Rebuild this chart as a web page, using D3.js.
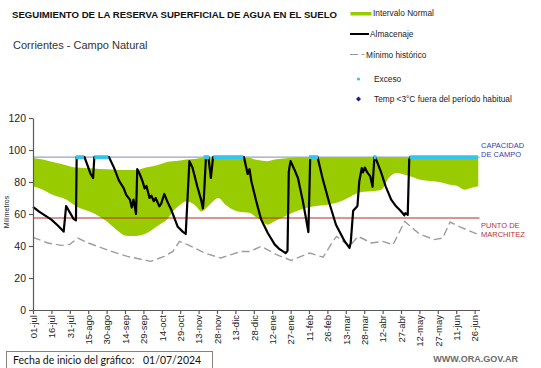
<!DOCTYPE html>
<html>
<head>
<meta charset="utf-8">
<script src="https://cdn.jsdelivr.net/npm/d3@7"></script>
<style>
  body { margin: 0; background: #fff; }
  svg { display: block; font-family: "Liberation Sans", Arial, sans-serif; }
</style>
</head>
<body>
<div id="chart"></div>
<script>
// dias contados desde el 01/07/2024
var almDias = [0, 5, 10, 15, 20, 25, 27, 30, 33, 35, 35.6, 42, 47, 49, 50, 62, 66, 70, 74, 76, 79, 80.5, 82, 84, 85,
  87, 89.5, 91, 92.5, 95, 96.5, 98.5, 100, 103, 104.5, 107, 110, 112.5, 114, 116, 118, 122, 124.5, 127.5, 130, 134,
  137, 138.5, 139.3, 141, 143, 145, 146.8, 172, 175, 176.5, 178, 182, 186, 191.5, 197, 201, 206, 207.5, 208.5, 209,
  210, 213, 216, 220, 222.5, 224.5, 226, 232, 236, 241.5, 247, 254, 258, 259, 261, 264.5, 266, 268, 269, 270.5,
  272.5, 275, 276.8, 278.3, 279, 283.5, 287.5, 292, 296, 300, 302.7, 303.5, 305.5, 306.7, 307.5, 362];
var almValores = [64.5, 61.5, 59, 56.5, 53, 49, 65, 61, 57, 56, 95.5, 95.5, 85, 82.5, 95.5, 95.5, 89, 81, 76, 72, 69, 64,
  69, 60, 88, 85, 80, 76, 77.5, 70, 71.5, 68, 70, 64.8, 66.5, 72.5, 67, 63, 60, 56, 52, 49, 47.5, 93, 89, 77, 69,
  63.5, 70, 95.5, 95.5, 82.5, 95.5, 95.5, 85, 88, 80.5, 68, 56.5, 48, 41, 38, 35.5, 37, 86, 89, 93, 88, 82.5, 68,
  57.5, 48.7, 95.5, 95.5, 82.5, 67, 53.3, 43, 38.8, 42, 62, 65, 80.5, 88.7, 86, 89, 86, 83.5, 77, 95.5, 95.5, 86.7,
  77.3, 69, 64.8, 61.7, 59.2, 60.5, 59.5, 94, 95.5, 95.5];

var minDias = [0, 12, 23, 30, 36.6, 45, 64, 77, 96, 107, 114, 119.5, 126, 140, 153, 161.5, 169.5, 177, 186, 198.5,
  210.5, 225.5, 236.5, 244.5, 247.5, 258, 265, 276, 285, 293.5, 303, 315, 327, 334, 340, 348, 362];
var minValores = [45.4, 41.9, 40.4, 41, 45, 41.9, 36.6, 33.5, 30.4, 33.5, 36.6, 42.9, 40.8, 35.6, 32.5, 34.6, 36.6,
  36.6, 39.8, 34.6, 31, 35.6, 33, 42.9, 46, 39.8, 46, 41.9, 42.9, 40.8, 55.4, 47.5, 44, 45, 55, 52, 47.5];

var bandaDias = [0, 8, 16, 27, 35, 49, 60, 68, 76, 84, 92, 103, 109, 114, 120, 125, 133, 137, 144, 151, 157, 167,
  177, 181, 186, 191, 197, 208, 218, 229, 240, 251, 259, 266, 273, 284, 290, 296, 303, 308, 316, 327, 335, 340,
  346, 352, 357, 363];
var bandaMin = [77.3, 75.2, 72, 69, 64.8, 60.6, 55.4, 50.2, 46.4, 46.2, 47.8, 53.3, 56.4, 61.6, 65.8, 67.9, 64.8, 61.6,
  65.8, 70, 65.8, 61.6, 60.6, 58.5, 56.4, 53.3, 55.4, 59.6, 62.7, 64.8, 65.8, 67.9, 71, 73.5, 74, 75.2, 82.5, 85.6,
  84.6, 83.5, 81.4, 80.4, 79.4, 78.3, 77.5, 75.2, 76.2, 77.3];
var bandaMax = [95, 94, 92.5, 90.5, 89, 88.5, 88, 87.7, 87.5, 87.5, 89, 91, 92.5, 93, 93.5, 94, 94.5, 95, 95, 95,
  95.5, 95.5, 95, 94, 93.5, 93, 94, 95, 95.5, 95.5, 95.5, 95.5, 95.5, 95.5, 95.5, 95.5, 95.5, 95.5, 95.5, 95.5,
  95.5, 95.5, 95.5, 95.5, 95.5, 95.5, 95.5, 95.5];

var excesoIni = [35, 50, 139, 147, 225, 277.7, 307];
var excesoFin = [41.5, 61.5, 143.5, 171.5, 232.4, 280, 362.7];

var capacidadCampo = 95.5;
var puntoMarchitez = 57.5;
var yTicks = [0, 20, 40, 60, 80, 100, 120];
var diasTicks = [0, 15, 30, 45, 60, 75, 90, 105, 120, 135, 150, 165, 180, 195, 210, 225, 240, 255, 270, 285, 300,
  315, 330, 345, 360];

var svgWidth = 541;
var svgHeight = 368;

var inicio = Date.UTC(2024, 6, 1);
function fecha(d) { return new Date(inicio + d * 864e5); }

var es = d3.timeFormatLocale({
  dateTime: "%x %X", date: "%d/%m/%Y", time: "%H:%M:%S", periods: ["AM", "PM"],
  days: ["domingo", "lunes", "martes", "miércoles", "jueves", "viernes", "sábado"],
  shortDays: ["dom", "lun", "mar", "mié", "jue", "vie", "sáb"],
  months: ["enero", "febrero", "marzo", "abril", "mayo", "junio", "julio", "agosto", "septiembre", "octubre", "noviembre", "diciembre"],
  shortMonths: ["ene", "feb", "mar", "abr", "may", "jun", "jul", "ago", "sep", "oct", "nov", "dic"]
});
var fmt = es.utcFormat("%d-%b");

var svg = d3.select("#chart").append("svg")
  .attr("width", svgWidth)
  .attr("height", svgHeight);

var x = d3.scaleUtc()
  .domain([fecha(0), fecha(364)])
  .range([33, 479.5]);

var y = d3.scaleLinear()
  .domain([0, 120])
  .range([310, 118]);

// banda normal
var banda = bandaDias.map((d, i) => ({ d: d, lo: bandaMin[i], hi: bandaMax[i] }));
svg.append("path")
  .datum(banda)
  .attr("fill", "#99cc00")
  .attr("d", d3.area()
    .x(p => x(fecha(p.d)))
    .y0(p => y(p.lo))
    .y1(p => y(p.hi))
    .curve(d3.curveMonotoneX));

// lineas de referencia
svg.append("line")
  .attr("x1", 33).attr("x2", 479.5)
  .attr("y1", y(capacidadCampo)).attr("y2", y(capacidadCampo))
  .attr("stroke", "#95a3c4").attr("stroke-width", 1.3);

svg.append("line")
  .attr("x1", 33).attr("x2", 479.5)
  .attr("y1", y(puntoMarchitez)).attr("y2", y(puntoMarchitez))
  .attr("stroke", "#b8282b").attr("stroke-width", 1);

// minimo historico
svg.append("path")
  .datum(minDias.map((d, i) => [d, minValores[i]]))
  .attr("fill", "none")
  .attr("stroke", "#9d9d9d")
  .attr("stroke-width", 1.4)
  .attr("stroke-dasharray", "8,4")
  .attr("d", d3.line().x(p => x(fecha(p[0]))).y(p => y(p[1])));

// almacenaje
svg.append("path")
  .datum(almDias.map((d, i) => [d, almValores[i]]))
  .attr("fill", "none")
  .attr("stroke", "#000")
  .attr("stroke-width", 2.2)
  .attr("stroke-linejoin", "round")
  .attr("d", d3.line().x(p => x(fecha(p[0]))).y(p => y(p[1])));

// exceso
svg.selectAll(".exceso")
  .data(excesoIni)
  .enter().append("line")
  .attr("class", "exceso")
  .attr("x1", d => x(fecha(d)))
  .attr("x2", (d, i) => x(fecha(excesoFin[i])))
  .attr("y1", y(capacidadCampo)).attr("y2", y(capacidadCampo))
  .attr("stroke", "#35c4ea").attr("stroke-width", 4);

// ejes
var xAxis = svg.append("g")
  .attr("transform", "translate(0,310)")
  .call(d3.axisBottom(x).tickValues(diasTicks.map(fecha)).tickFormat(fmt).tickSize(4).tickSizeOuter(0));
xAxis.selectAll("text")
  .attr("transform", "rotate(-90)")
  .attr("text-anchor", "end")
  .attr("x", -5)
  .attr("y", 0)
  .attr("dy", "0.35em")
  .attr("font-size", 9.5)
  .attr("fill", "#222");

var yAxis = svg.append("g")
  .attr("transform", "translate(33,0)")
  .call(d3.axisLeft(y).tickValues(yTicks).tickSize(4).tickSizeOuter(0));
yAxis.selectAll("text").attr("font-size", 10.5).attr("fill", "#222").attr("x", -7);

svg.selectAll(".domain, .tick line").attr("stroke", "#595959").attr("stroke-width", 1.2);
svg.selectAll(".tick text").attr("font-family", "Liberation Sans, Arial, sans-serif");

svg.append("text")
  .attr("transform", "translate(9,212) rotate(-90)")
  .attr("text-anchor", "middle")
  .attr("font-size", 7)
  .attr("fill", "#222")
  .text("Milímetros");

// titulos
svg.append("text")
  .attr("x", 12).attr("y", 18)
  .attr("font-size", 9.6)
  .attr("font-weight", "bold")
  .attr("fill", "#111")
  .text("SEGUIMIENTO DE LA RESERVA SUPERFICIAL DE AGUA EN EL SUELO");

svg.append("text")
  .attr("x", 13).attr("y", 49)
  .attr("font-size", 11)
  .attr("fill", "#333")
  .text("Corrientes - Campo Natural");

// etiquetas de referencia
var refs = svg.append("g").attr("font-size", 7.5);
refs.append("text").attr("x", 481).attr("y", 148).attr("fill", "#3c3cb0").text("CAPACIDAD");
refs.append("text").attr("x", 481).attr("y", 157).attr("fill", "#3c3cb0").text("DE  CAMPO");
refs.append("text").attr("x", 481).attr("y", 228).attr("fill", "#c03030").text("PUNTO  DE");
refs.append("text").attr("x", 481).attr("y", 237).attr("fill", "#c03030").text("MARCHITEZ");

// leyenda
var leg = svg.append("g").attr("font-size", 8.3).attr("fill", "#222");
leg.append("rect").attr("x", 350.5).attr("y", 12).attr("width", 21).attr("height", 3.5).attr("fill", "#99cc00");
leg.append("text").attr("x", 373).attr("y", 16).text("Intervalo Normal");
leg.append("line").attr("x1", 350).attr("x2", 369).attr("y1", 34).attr("y2", 34)
  .attr("stroke", "#000").attr("stroke-width", 2);
leg.append("text").attr("x", 370).attr("y", 37).text("Almacenaje");
leg.append("line").attr("x1", 350).attr("x2", 364.5).attr("y1", 54.5).attr("y2", 54.5)
  .attr("stroke", "#999").attr("stroke-width", 1.2).attr("stroke-dasharray", "8,3.5");
leg.append("text").attr("x", 366).attr("y", 57.5).text("Mínimo histórico");
leg.append("circle").attr("cx", 358.5).attr("cy", 79).attr("r", 1.6).attr("fill", "#35c4ea");
leg.append("text").attr("x", 374).attr("y", 82).text("Exceso");
leg.append("rect").attr("x", -1.8).attr("y", -1.8).attr("width", 3.6).attr("height", 3.6)
  .attr("transform", "translate(358.5,99) rotate(45)").attr("fill", "#1a1a99");
leg.append("text").attr("x", 374).attr("y", 102).text("Temp <3°C fuera del período habitual");

// pie
svg.append("rect")
  .attr("x", 6.5).attr("y", 351.5).attr("width", 206).attr("height", 17)
  .attr("fill", "#fff").attr("stroke", "#8c7f7c").attr("stroke-width", 1);
svg.append("text")
  .attr("x", 13).attr("y", 364)
  .attr("font-family", "Lato, sans-serif")
  .attr("font-size", 10.5)
  .attr("fill", "#111")
  .text("Fecha de inicio del gráfico:");
svg.append("text")
  .attr("x", 143).attr("y", 364)
  .attr("font-family", "Lato, sans-serif")
  .attr("font-size", 10.5)
  .attr("fill", "#111")
  .text("01/07/2024");

svg.append("text")
  .attr("x", 518).attr("y", 362)
  .attr("text-anchor", "end")
  .attr("font-size", 9)
  .attr("font-weight", "bold")
  .attr("fill", "#6b6b6b")
  .text("WWW.ORA.GOV.AR");
</script>
</body>
</html>
